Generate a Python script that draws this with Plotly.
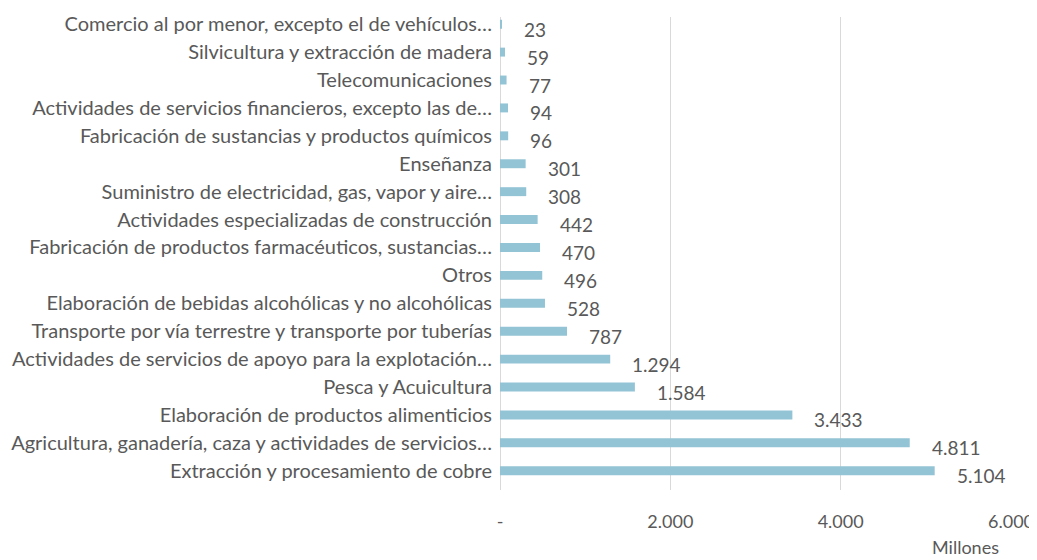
import plotly.graph_objects as go

categories = [
    "Extracción y procesamiento de cobre",
    "Agricultura, ganadería, caza y actividades de servicios…",
    "Elaboración de productos alimenticios",
    "Pesca y Acuicultura",
    "Actividades de servicios de apoyo para la explotación…",
    "Transporte por vía terrestre y transporte por tuberías",
    "Elaboración de bebidas alcohólicas y no alcohólicas",
    "Otros",
    "Fabricación de productos farmacéuticos, sustancias…",
    "Actividades especializadas de construcción",
    "Suministro de electricidad, gas, vapor y aire…",
    "Enseñanza",
    "Fabricación de sustancias y productos químicos",
    "Actividades de servicios financieros, excepto las de…",
    "Telecomunicaciones",
    "Silvicultura y extracción de madera",
    "Comercio al por menor, excepto el de vehículos…",
]
values = [5104, 4811, 3433, 1584, 1294, 787, 528, 496, 470, 442, 308, 301, 96, 94, 77, 59, 23]
tick_vals = [0, 2000, 4000, 6000]
tick_text = ["-", "2.000", "4.000", "6.000"]
axis_title = "Millones"

def fmt(v):
    return f"{v:,}".replace(",", ".")

FONT = "Lato"
GRAY = "#595959"
BAR = "#93C4D5"

fig = go.Figure()
fig.add_trace(go.Bar(
    y=categories, x=values, orientation="h",
    marker=dict(color=BAR, line=dict(width=0)),
    width=0.32,
    hoverinfo="x+y",
))

for c, v in zip(categories, values):
    fig.add_annotation(
        x=v, y=c, text=fmt(v), showarrow=False,
        xanchor="left", yanchor="middle", xshift=20, yshift=-5,
        font=dict(family=FONT, size=19, color=GRAY),
    )

fig.add_annotation(
    x=1.0, y=0, xref="paper", yref="paper", text=axis_title,
    showarrow=False, xanchor="center", yanchor="middle", xshift=-46, yshift=-57,
    font=dict(family=FONT, size=18, color=GRAY),
)

fig.update_layout(
    width=1029, height=552,
    margin=dict(l=492, r=26, t=3, b=70),
    paper_bgcolor="white", plot_bgcolor="white",
    showlegend=False,
    font=dict(family=FONT, size=20, color=GRAY),
    xaxis=dict(
        range=[0, 6000], tickvals=tick_vals, ticktext=tick_text,
        showgrid=True, gridcolor="#D9D9D9", gridwidth=1,
        zeroline=True, zerolinecolor="#D9D9D9", zerolinewidth=1,
        showline=False, ticks="outside", ticklen=15, tickcolor="rgba(0,0,0,0)",
        tickfont=dict(family=FONT, size=18, color=GRAY),
        fixedrange=True,
    ),
    yaxis=dict(
        range=[-0.69, 16.258], categoryorder="array", categoryarray=categories,
        showgrid=False, showline=False, zeroline=False,
        ticks="outside", ticklen=3, tickcolor="rgba(0,0,0,0)",
        tickfont=dict(family=FONT, size=20, color=GRAY),
        fixedrange=True,
    ),
)

fig.write_html("out.html")
